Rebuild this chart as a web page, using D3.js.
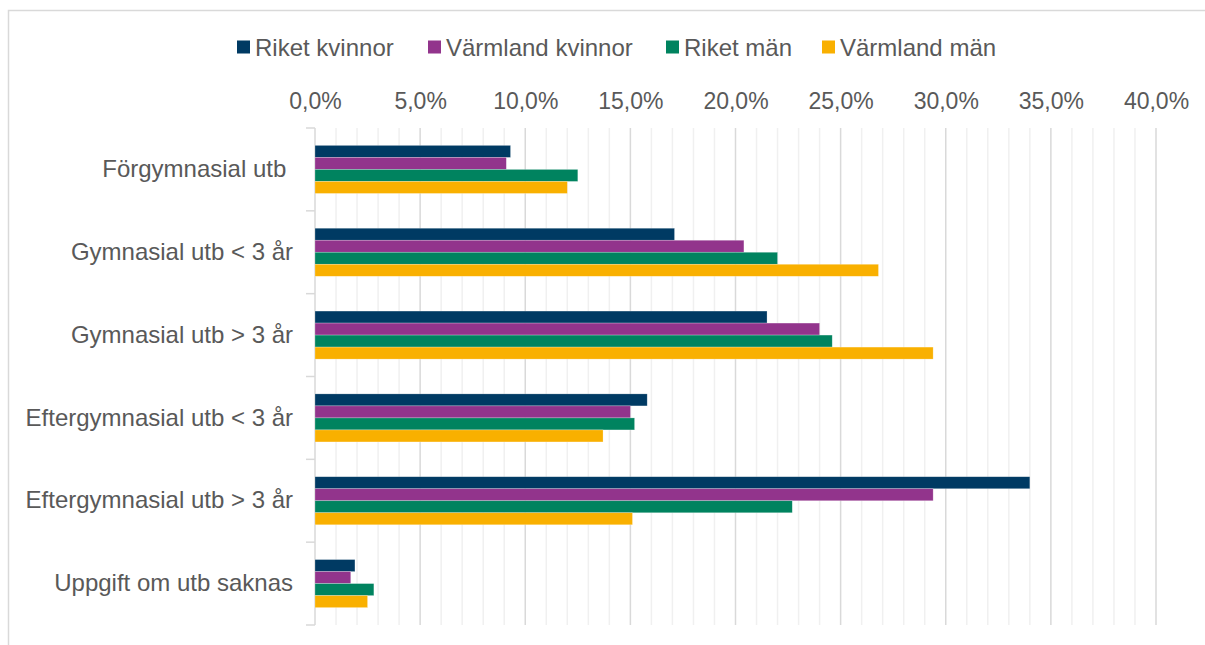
<!DOCTYPE html>
<html>
<head>
<meta charset="utf-8">
<script src="https://cdn.jsdelivr.net/npm/d3@7"></script>
<style>
  body { margin: 0; background: #fff; }
  text { font-family: "Liberation Sans", Arial, sans-serif; fill: #595959; white-space: pre; }
</style>
</head>
<body>
<div id="chart"></div>
<script>
// data
var categories = ["Förgymnasial utb ", "Gymnasial utb < 3 år", "Gymnasial utb > 3 år",
  "Eftergymnasial utb < 3 år", "Eftergymnasial utb > 3 år", "Uppgift om utb saknas"];
var seriesNames = ["Riket kvinnor", "Värmland kvinnor", "Riket män", "Värmland män"];
var rikeKvinnor = [9.3, 17.1, 21.5, 15.8, 34.0, 1.9];
var varmlandKvinnor = [9.1, 20.4, 24.0, 15.0, 29.4, 1.7];
var rikeMan = [12.5, 22.0, 24.6, 15.2, 22.7, 2.8];
var varmlandMan = [12.0, 26.8, 29.4, 13.7, 15.1, 2.5];
var xTicks = [0, 5, 10, 15, 20, 25, 30, 35, 40];

var colors = ["#003a63", "#92348c", "#00835f", "#f9b000"];
var allSeries = [rikeKvinnor, varmlandKvinnor, rikeMan, varmlandMan];

var svgWidth = 1205;
var svgHeight = 645;

var margin = { top: 128, right: 49, bottom: 20, left: 315 };
var width = svgWidth - margin.left - margin.right;
var height = 625 - margin.top;

var svg = d3.select("#chart")
  .append("svg")
  .attr("width", svgWidth)
  .attr("height", svgHeight);

// outer frame
svg.append("rect")
  .attr("x", 8.5)
  .attr("y", 10.5)
  .attr("width", 1205)
  .attr("height", 650)
  .attr("fill", "none")
  .attr("stroke", "#d9d9d9")
  .attr("stroke-width", 1.5);

var chartGroup = svg.append("g")
  .attr("transform", `translate(${margin.left}, ${margin.top})`);

var x = d3.scaleLinear().domain([0, 40]).range([0, width]);
var y = d3.scaleBand().domain(categories).range([0, height]).paddingInner(0.42).paddingOuter(0.21);
var ySub = d3.scaleBand().domain(seriesNames).range([0, y.bandwidth()]);

// minor gridlines
chartGroup.selectAll(".minor")
  .data(d3.range(1, 41).filter(d => d % 5 !== 0))
  .enter()
  .append("line")
  .attr("x1", d => x(d)).attr("x2", d => x(d))
  .attr("y1", 0).attr("y2", height)
  .attr("stroke", "#f0f0f0")
  .attr("stroke-width", 1.5);

// major gridlines
chartGroup.selectAll(".major")
  .data(xTicks.slice(1))
  .enter()
  .append("line")
  .attr("x1", d => x(d)).attr("x2", d => x(d))
  .attr("y1", 0).attr("y2", height)
  .attr("stroke", "#d9d9d9")
  .attr("stroke-width", 1.5);

// top axis labels
var topAxis = d3.axisTop(x)
  .tickValues(xTicks)
  .tickSize(0)
  .tickPadding(0)
  .tickFormat(d => d3.format(".1f")(d).replace(".", ",") + "%");

var axisG = chartGroup.append("g")
  .attr("transform", "translate(0, -19)")
  .call(topAxis);
axisG.select(".domain").remove();
axisG.selectAll("text")
  .style("font-size", "23px")
  .style("font-family", "Liberation Sans, Arial, sans-serif")
  .attr("fill", "#595959");

// left axis with category labels
var leftAxis = d3.axisLeft(y).tickSize(0).tickPadding(22);
var leftG = chartGroup.append("g").call(leftAxis);
leftG.select(".domain").remove();
leftG.selectAll("text")
  .style("font-size", "24px")
  .style("font-family", "Liberation Sans, Arial, sans-serif")
  .attr("fill", "#595959");

// vertical axis line and category separator ticks
chartGroup.append("line")
  .attr("x1", 0).attr("x2", 0)
  .attr("y1", 0).attr("y2", height)
  .attr("stroke", "#d9d9d9")
  .attr("stroke-width", 1.5);

var step = height / categories.length;
chartGroup.selectAll(".sep")
  .data(d3.range(0, categories.length + 1))
  .enter()
  .append("line")
  .attr("x1", -9).attr("x2", 0)
  .attr("y1", d => d * step).attr("y2", d => d * step)
  .attr("stroke", "#d9d9d9")
  .attr("stroke-width", 1.5);

// bars
allSeries.forEach(function (vals, i) {
  chartGroup.selectAll(".bar" + i)
    .data(vals)
    .enter()
    .append("rect")
    .attr("x", 0)
    .attr("y", (d, j) => y(categories[j]) + ySub(seriesNames[i]))
    .attr("width", d => x(d))
    .attr("height", ySub.bandwidth())
    .attr("fill", colors[i])
    .attr("stroke", "#ffffff")
    .attr("stroke-opacity", 0.4)
    .attr("stroke-width", 0.6);
});

// legend
var legendX = [237, 428, 666, 822];
var legend = svg.selectAll(".legend")
  .data(seriesNames)
  .enter()
  .append("g")
  .attr("transform", (d, i) => `translate(${legendX[i]}, 47)`);

legend.append("rect")
  .attr("x", 0).attr("y", -6.5)
  .attr("width", 13).attr("height", 13)
  .attr("fill", (d, i) => colors[i]);

legend.append("text")
  .attr("x", 18)
  .attr("y", 8.5)
  .style("font-size", "24px")
  .text(d => d);
</script>
</body>
</html>
